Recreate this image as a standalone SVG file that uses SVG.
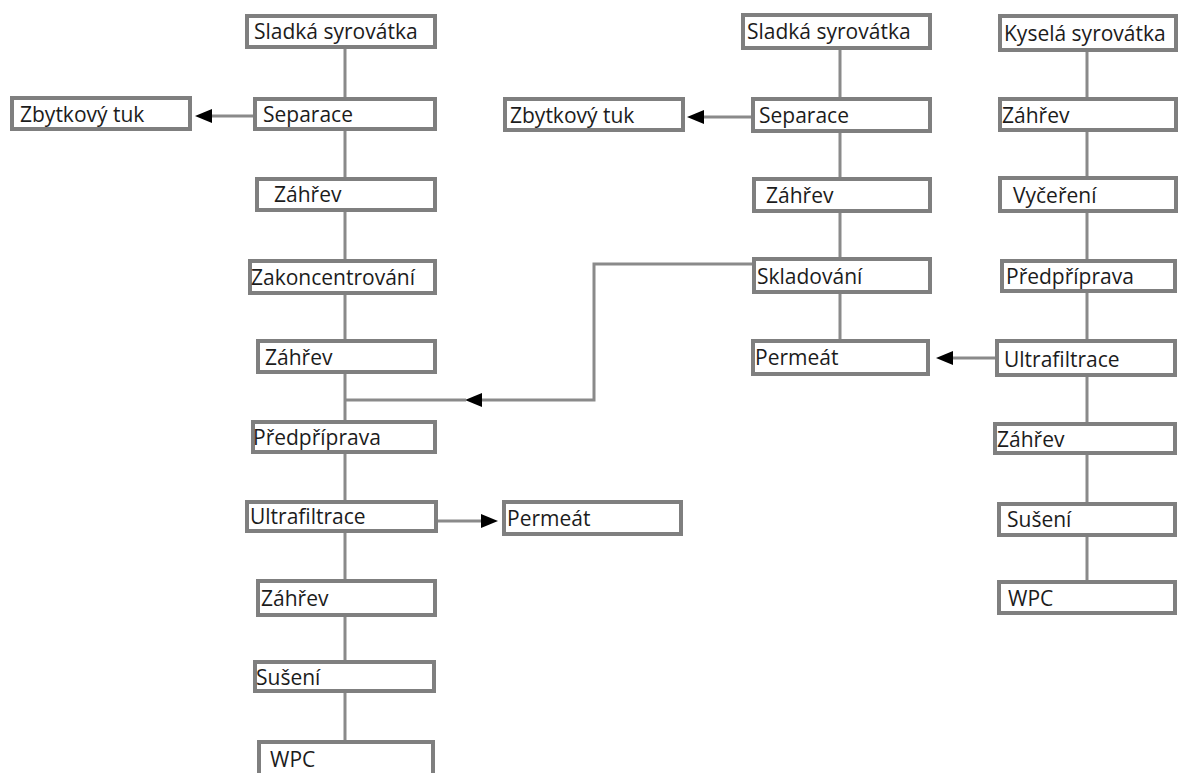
<svg xmlns="http://www.w3.org/2000/svg" width="1183" height="773" viewBox="0 0 1183 773">
<style>
.box rect{fill:#fff;stroke:#7f7f7f;stroke-width:4}
.box text{font-family:"Open Sans","Noto Sans",sans-serif;font-size:21px;fill:#1c1c1c}
.ln{stroke:#8a8a8a;stroke-width:3;fill:none}
</style>
<defs>
<marker id="ah" markerUnits="userSpaceOnUse" markerWidth="17" markerHeight="14" refX="0" refY="7" orient="auto">
<path d="M0,0 L17,7 L0,14 z" fill="#000"/>
</marker>
</defs>
<rect width="1183" height="773" fill="#fff"/>
<g id="connectors">
<path class="ln" d="M345,49 V97 M345,131 V177 M345,212 V259 M345,295 V339 M345,374 V420 M345,454 V500 M345,533 V579 M345,617 V660 M345,693 V740"/>
<path class="ln" d="M840,50 V97 M840,133 V177 M840,213 V257 M840,294 V339"/>
<path class="ln" d="M1087,52 V97 M1087,132 V176 M1087,213 V259 M1087,293 V339 M1087,377 V422 M1087,455 V502 M1087,537 V580"/>
<path class="ln" d="M253,116 H212" marker-end="url(#ah)"/>
<path class="ln" d="M751,117 H704" marker-end="url(#ah)"/>
<path class="ln" d="M438,521 H481" marker-end="url(#ah)"/>
<path class="ln" d="M995,358 H953" marker-end="url(#ah)"/>
<path class="ln" d="M752,264 H594 V400 H482" marker-end="url(#ah)"/>
<path class="ln" d="M466,400 H345"/>
</g>
<g id="l1" class="box"><rect x="247" y="16" width="188" height="31"/><text x="254" y="39">Sladká syrovátka</text></g>
<g id="l2" class="box"><rect x="255" y="99" width="180" height="30"/><text x="263" y="122">Separace</text></g>
<g id="lz" class="box"><rect x="12" y="98" width="178" height="31"/><text x="20" y="122">Zbytkový tuk</text></g>
<g id="l3" class="box"><rect x="257" y="179" width="178" height="31"/><text x="274" y="202">Záhřev</text></g>
<g id="l4" class="box"><rect x="250" y="261" width="185" height="32"/><text x="251" y="285">Zakoncentrování</text></g>
<g id="l5" class="box"><rect x="258" y="341" width="177" height="31"/><text x="265" y="365">Záhřev</text></g>
<g id="l6" class="box"><rect x="253" y="422" width="182" height="30"/><text x="253" y="445">Předpříprava</text></g>
<g id="l7" class="box"><rect x="247" y="502" width="189" height="29"/><text x="250" y="524">Ultrafiltrace</text></g>
<g id="lp" class="box"><rect x="504" y="502" width="177" height="32"/><text x="507" y="526">Permeát</text></g>
<g id="l8" class="box"><rect x="258" y="581" width="177" height="34"/><text x="261" y="606">Záhřev</text></g>
<g id="l9" class="box"><rect x="255" y="662" width="179" height="29"/><text x="256" y="685">Sušení</text></g>
<g id="l10" class="box"><rect x="259" y="742" width="174" height="40"/><text x="270" y="767">WPC</text></g>
<g id="m1" class="box"><rect x="743" y="15" width="187" height="33"/><text x="747" y="39">Sladká syrovátka</text></g>
<g id="m2" class="box"><rect x="753" y="99" width="177" height="32"/><text x="759" y="123">Separace</text></g>
<g id="mz" class="box"><rect x="505" y="99" width="178" height="31"/><text x="510" y="123">Zbytkový tuk</text></g>
<g id="m3" class="box"><rect x="754" y="179" width="176" height="32"/><text x="766" y="203">Záhřev</text></g>
<g id="m4" class="box"><rect x="754" y="259" width="176" height="33"/><text x="757" y="284">Skladování</text></g>
<g id="m5" class="box"><rect x="753" y="341" width="175" height="33"/><text x="755" y="365">Permeát</text></g>
<g id="r1" class="box"><rect x="1000" y="16" width="176" height="34"/><text x="1004" y="41">Kyselá syrovátka</text></g>
<g id="r2" class="box"><rect x="1000" y="99" width="176" height="31"/><text x="1002" y="123">Záhřev</text></g>
<g id="r3" class="box"><rect x="1000" y="178" width="176" height="33"/><text x="1013" y="203">Vyčeření</text></g>
<g id="r4" class="box"><rect x="1002" y="261" width="173" height="30"/><text x="1006" y="284">Předpříprava</text></g>
<g id="r5" class="box"><rect x="997" y="341" width="178" height="34"/><text x="1004" y="367">Ultrafiltrace</text></g>
<g id="r6" class="box"><rect x="995" y="424" width="180" height="29"/><text x="997" y="447">Záhřev</text></g>
<g id="r7" class="box"><rect x="999" y="504" width="176" height="31"/><text x="1007" y="527">Sušení</text></g>
<g id="r8" class="box"><rect x="999" y="582" width="176" height="31"/><text x="1008" y="606">WPC</text></g>
</svg>
